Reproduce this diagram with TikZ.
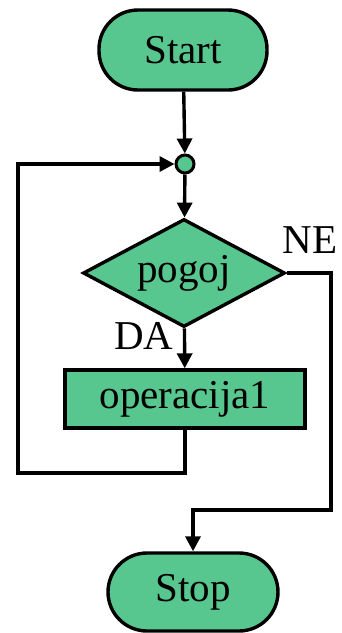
\documentclass[tikz,border=0pt]{standalone}
\usepackage{fontspec}
\setmainfont{Liberation Serif}
\usetikzlibrary{shapes.geometric,arrows.meta}
\definecolor{flowgreen}{RGB}{87,199,143}
\begin{document}
\begin{tikzpicture}[x=1pt,y=-1pt,line width=3.4pt,
    every node/.style={font=\fontsize{41pt}{41pt}\selectfont},
    box/.style={draw,fill=flowgreen,inner sep=0pt},
    term/.style={box,minimum width=168pt,minimum height=80pt,rounded corners=39pt},
    flow/.style={-{Triangle[length=15pt,width=15pt]}}]
    \useasboundingbox (0,0) rectangle (341,633);
    \node[term] (start) at (183,50) {Start};
    \node[box,circle,minimum size=18pt,line width=3pt] (join) at (185,164) {};
    \node[box,diamond,minimum width=202pt,minimum height=108pt,aspect=1.87] (cond) at (184,273) {pogoj};
    \node[box,minimum width=240pt,minimum height=58pt] (op) at (185,399) {operacija1};
    \node[term,minimum width=170pt,minimum height=78pt] (stop) at (193,592) {Stop};
    \node (ne) at (310,240) {NE};
    \node (da) at (144,336) {DA};
    \coordinate (lb) at (18,473);
    \coordinate (rb) at (331,510);
    \draw[flow] (start) -- (join);
    \draw[flow] (join) -- (cond);
    \draw[flow] (cond) -- (op);
    \draw[flow] (op.south) |- (lb) |- (join.west);
    \draw[flow] (cond.east) -| (rb) -| (stop.north);
\end{tikzpicture}
\end{document}
